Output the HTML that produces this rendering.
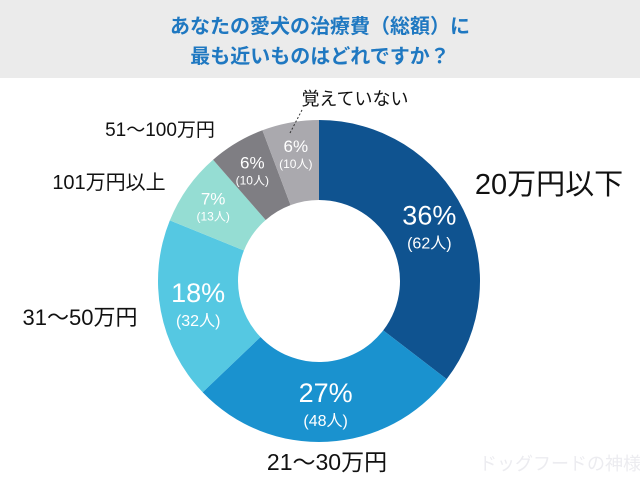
<!DOCTYPE html>
<html><head><meta charset="utf-8">
<style>
body{margin:0;width:640px;height:480px;background:#fff;overflow:hidden;font-family:"Liberation Sans","Noto Sans CJK JP",sans-serif;}
#hdr{position:absolute;left:0;top:0;width:640px;height:78px;background:#ebebeb;}
#hdr div{position:absolute;width:640px;text-align:center;color:#1f78c1;font-weight:bold;font-size:20px;}
svg{position:absolute;left:0;top:0;}
</style></head><body>
<div id="hdr">
<div style="top:10px">あなたの愛犬の治療費（総額）に</div>
<div style="top:40px">最も近いものはどれですか？</div>
</div>
<svg id="chart" width="640" height="480"></svg>
<script>
const categories=["20万円以下","21～30万円","31～50万円","101万円以上","51～100万円","覚えていない"];
const counts=[62,48,32,13,10,10];
const percents=["36%","27%","18%","7%","6%","6%"];
const colors=["#0f5390","#1a92cf","#55c8e2","#95ddd3","#7f7e83","#aaa9ae"];
const cx=319,cy=281,R=161,r=81;
const svg=document.getElementById('chart');
const NS="http://www.w3.org/2000/svg";
const total=counts.reduce((a,b)=>a+b,0);
function pt(a,rad){return [cx+rad*Math.sin(a),cy-rad*Math.cos(a)];}
let acc=0;
const mids=[];
counts.forEach((c,i)=>{
  const a0=acc/total*2*Math.PI; acc+=c; const a1=acc/total*2*Math.PI;
  const [x0,y0]=pt(a0,R),[x1,y1]=pt(a1,R),[x2,y2]=pt(a1,r),[x3,y3]=pt(a0,r);
  const lg=(a1-a0)>Math.PI?1:0;
  const p=document.createElementNS(NS,'path');
  p.setAttribute('d',`M${x0},${y0}A${R},${R} 0 ${lg} 1 ${x1},${y1}L${x2},${y2}A${r},${r} 0 ${lg} 0 ${x3},${y3}Z`);
  p.setAttribute('fill',colors[i]);
  
  
  svg.appendChild(p);
  mids.push((a0+a1)/2);
});
function txt(x,y,s,size,fill,name,anchor){
  const t=document.createElementNS(NS,'text');
  t.setAttribute('x',x);t.setAttribute('y',y);t.setAttribute('font-size',size);
  t.setAttribute('fill',fill);t.setAttribute('text-anchor',anchor||'middle');
  t.textContent=s;
  
  
  svg.appendChild(t);
}
const pSize=[27,27,27,17,17,17],cSize=[16,16,16,12,12,12];
mids.forEach((m,i)=>{
  const rr=i<3?123:130;
  const [x,y]=pt(m,rr);
  txt(x,y-(i<3?2:1),percents[i],pSize[i],'#fff','percent-label');
  txt(x,y+(i<3?22:15),'('+counts[i]+'人)',cSize[i],'#fff','count-label');
});
const catPos=[[549,194,29,'middle'],[327,470,23,'middle'],[80,325,22,'middle'],[109,189,20,'middle'],[160,136,19,'middle'],[355,105,18,'middle']];
categories.forEach((c,i)=>{const q=catPos[i];txt(q[0],q[1],c,q[2],'#111','category-label',q[3]);});
const ln=document.createElementNS(NS,'line');
ln.setAttribute('x1',302);ln.setAttribute('y1',110);ln.setAttribute('x2',290);ln.setAttribute('y2',133);
ln.setAttribute('stroke','#333');ln.setAttribute('stroke-dasharray','2,2');


svg.appendChild(ln);
txt(560,470,'ドッグフードの神様',18,'#ececf0','watermark');
</script>
</body></html>
